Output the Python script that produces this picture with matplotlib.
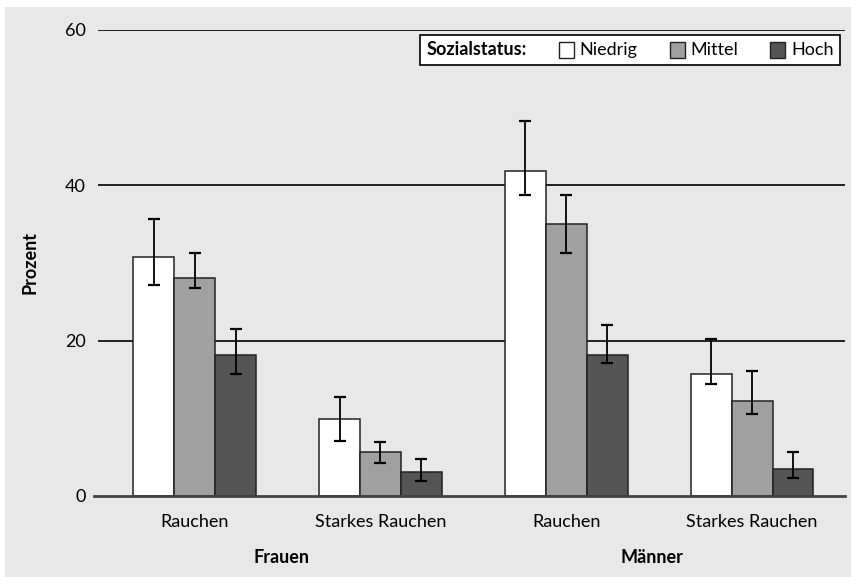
import numpy as np
import matplotlib.pyplot as plt
from matplotlib.patches import Rectangle
from matplotlib.offsetbox import AnchoredOffsetbox, HPacker, TextArea, DrawingArea

plt.rcParams['font.family'] = ['Lato', 'DejaVu Sans']

# Daten: Prozentwerte je Sozialstatus, mit Konfidenzintervall (unten/oben)
kategorien = ['Rauchen', 'Starkes Rauchen', 'Rauchen', 'Starkes Rauchen']
gruppen = ['Frauen', 'Männer']
gruppen_pos = [0.47, 2.46]
status = ['Niedrig', 'Mittel', 'Hoch']
farben = ['#ffffff', '#a0a0a0', '#555555']

niedrig = [30.8, 9.9, 41.8, 15.7]
niedrig_lo = [27.2, 7.1, 38.7, 14.4]
niedrig_hi = [35.7, 12.7, 48.3, 20.2]

mittel = [28.1, 5.7, 35.0, 12.2]
mittel_lo = [26.8, 4.2, 31.3, 10.6]
mittel_hi = [31.3, 7.0, 38.7, 16.1]

hoch = [18.2, 3.1, 18.1, 3.5]
hoch_lo = [15.7, 1.9, 17.1, 2.3]
hoch_hi = [21.5, 4.8, 22.0, 5.7]

werte = [niedrig, mittel, hoch]
untere = [niedrig_lo, mittel_lo, hoch_lo]
obere = [niedrig_hi, mittel_hi, hoch_hi]

fs = 13

fig = plt.figure(figsize=(8.56, 5.81), dpi=100)
fig.patch.set_facecolor('white')
hintergrund = Rectangle((5/856, 4/581), 846/856, 570/581, transform=fig.transFigure,
                        facecolor='#e8e8e8', edgecolor='none', zorder=-10)
fig.add_artist(hintergrund)

ax = fig.add_axes([98/856, 85/581, 747/856, 466/581])
ax.set_facecolor('none')

x = np.arange(len(kategorien))
breite = 0.22
for i in range(3):
    pos = x + (i - 1) * breite
    w = np.array(werte[i])
    err = [w - np.array(untere[i]), np.array(obere[i]) - w]
    ax.bar(pos, w, width=breite, color=farben[i], edgecolor='#222222', linewidth=1.1, zorder=2)
    ax.errorbar(pos, w, yerr=err, fmt='none', ecolor='black', elinewidth=1.3,
                capsize=4, capthick=1.6, zorder=3)

# Gitterlinien
for yv in [20, 40, 60]:
    ax.axhline(yv, color='black', linewidth=1.2, zorder=1)
ax.axhline(0, color='#444444', linewidth=2, zorder=4, xmin=-0.005, clip_on=False)

ax.set_xlim(-0.52, 3.5)
ax.set_ylim(0, 60)
ax.set_yticks([0, 20, 40, 60])
ax.tick_params(axis='y', length=0, pad=9, labelsize=fs)
ax.tick_params(axis='x', length=0, pad=13, labelsize=fs)
ax.set_xticks(x)
ax.set_xticklabels(kategorien)
for s in ax.spines.values():
    s.set_visible(False)

ax.set_ylabel('Prozent', fontweight='bold', fontsize=fs, labelpad=19)

# Gruppenbeschriftung unter den Kategorien
for gp, g in zip(gruppen_pos, gruppen):
    ax.text(gp, -0.131, g, transform=ax.get_xaxis_transform(),
            ha='center', va='center', fontweight='bold', fontsize=fs)

# Legende in einer Zeile: Titel links, dann Farbfelder
eintraege = [TextArea('Sozialstatus:', textprops=dict(fontweight='bold', fontsize=fs))]
for c, lab in zip(farben, status):
    feld = DrawingArea(11, 11, 0, 0)
    feld.add_artist(Rectangle((0, 0), 11, 11, facecolor=c, edgecolor='#222222', linewidth=1))
    eintraege.append(HPacker(children=[feld, TextArea(lab, textprops=dict(fontsize=fs))],
                             align='center', pad=0, sep=4))
zeile = HPacker(children=eintraege, align='center', pad=0, sep=23)
leg = AnchoredOffsetbox(loc='upper right', child=zeile, pad=0.45, borderpad=0,
                        frameon=True, bbox_to_anchor=(0.993, 0.989),
                        bbox_transform=ax.transAxes)
leg.patch.set_boxstyle('square', pad=0)
leg.patch.set_edgecolor('black')
leg.patch.set_linewidth(1.2)
leg.set_zorder(5)
ax.add_artist(leg)

fig.savefig('out.png', dpi=100)
